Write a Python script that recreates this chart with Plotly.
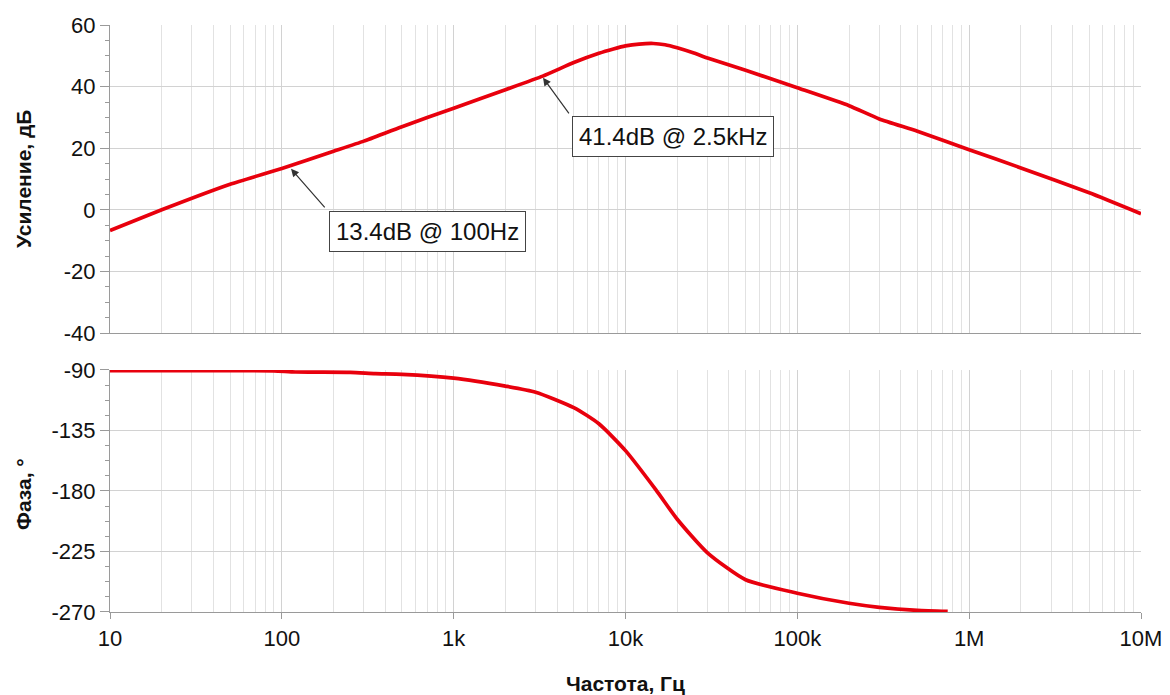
import numpy as np
import plotly.graph_objects as go
from plotly.subplots import make_subplots

# ---- data ----
freq_gain = [10, 20, 50, 100, 200, 300, 500, 1000, 2000, 3300, 5000, 7000,
             8500, 10000, 12000, 14500, 17000, 20000, 25000, 30000, 50000,
             100000, 200000, 300000, 500000, 1e6, 2e6, 5e6, 1e7]
gain_db = [-6.7, 0.0, 8.3, 13.4, 19.0, 22.3, 27.0, 33.0, 39.0, 43.4, 47.8, 50.8,
           52.2, 53.2, 53.8, 54.0, 53.6, 52.6, 50.9, 49.3, 45.3,
           39.6, 33.8, 29.5, 25.5, 19.5, 13.6, 5.5, -1.3]

freq_phase = [10, 50, 90, 120, 250, 350, 500, 1000, 2000, 3000, 5000, 7000,
              10000, 15000, 20000, 30000, 50000, 100000, 200000, 300000,
              500000, 750000]
phase_deg = [-90.5, -90.5, -90.6, -91.5, -91.8, -92.7, -93.2, -96.0, -102.0, -106.5,
             -118.0, -130.0, -150.0, -179.0, -201.0, -226.0, -246.0, -256.0,
             -263.5, -266.5, -268.8, -269.6]

x_tickvals = [10, 100, 1000, 10000, 100000, 1e6, 1e7]
x_ticktext = ["10", "100", "1k", "10k", "100k", "1M", "10M"]

gain_ticks = [-40, -20, 0, 20, 40, 60]
gain_ticktext = ["-40", "-20", "0", "20", "40", "60"]
phase_ticks = [-270, -225, -180, -135, -90]
phase_ticktext = ["-270", "-225", "-180", "-135", "-90"]

ann_labels = ["13.4dB @ 100Hz", "41.4dB @ 2.5kHz"]

# ---- styles ----
RED = "#e8000d"
FONT = "Liberation Sans, Arial, Helvetica, sans-serif"
GRID_MAJ = "#d2d2d2"
GRID_MIN = "#e2e2e2"
AXLINE = "#9a9a9a"
TXT = "#111111"

fig = make_subplots(rows=2, cols=1, shared_xaxes=True,
                    row_heights=[0.5247, 0.4123], vertical_spacing=0.063)

fig.add_trace(go.Scatter(x=freq_gain, y=gain_db, mode="lines",
                         line=dict(color=RED, width=3.7, shape="spline", smoothing=0.5),
                         showlegend=False, hoverinfo="skip"), row=1, col=1)
fig.add_trace(go.Scatter(x=freq_phase, y=phase_deg, mode="lines",
                         line=dict(color=RED, width=3.7, shape="spline", smoothing=0.6),
                         showlegend=False, hoverinfo="skip"), row=2, col=1)

xcommon = dict(type="log", range=[1, 7], tickvals=x_tickvals, ticktext=x_ticktext,
               showgrid=True, gridcolor=GRID_MAJ, gridwidth=1, automargin=False,
               minor=dict(dtick="D1", showgrid=True, gridcolor=GRID_MIN, gridwidth=1,
                          ticks=""),
               showline=True, linecolor=AXLINE, linewidth=1.2, zeroline=False)

fig.update_xaxes(**xcommon, row=1, col=1)
fig.update_xaxes(**xcommon, row=2, col=1)
fig.update_xaxes(showticklabels=False, ticks="", row=1, col=1)
fig.update_xaxes(showticklabels=True, ticks="outside", ticklen=6, tickcolor=AXLINE,
                 tickfont=dict(family=FONT, size=22, color=TXT),
                 row=2, col=1)

ycommon = dict(showgrid=True, gridcolor=GRID_MAJ, gridwidth=1, zeroline=False,
               showline=True, linecolor=AXLINE, linewidth=1.2, automargin=False,
               ticks="outside", ticklen=9, tickcolor=AXLINE,
               tickfont=dict(family=FONT, size=22, color=TXT))
fig.update_yaxes(**ycommon, range=[-40, 60], tickvals=gain_ticks, ticktext=gain_ticktext,
                 minor=dict(dtick=5, ticks="outside", ticklen=4, tickcolor=AXLINE,
                            showgrid=False),
                 row=1, col=1)
fig.update_yaxes(**ycommon, range=[-270, -90], tickvals=phase_ticks, ticktext=phase_ticktext,
                 minor=dict(dtick=11.25, ticks="outside", ticklen=4, tickcolor=AXLINE,
                            showgrid=False),
                 row=2, col=1)

annotations = []
# axis titles
annotations.append(dict(text="<b>Усиление, дБ</b>", xref="paper", yref="paper",
                        x=-0.0844, y=0.7376, textangle=-90, showarrow=False,
                        xanchor="center", yanchor="middle",
                        font=dict(family=FONT, size=21, color=TXT)))
annotations.append(dict(text="<b>Фаза, °</b>", xref="paper", yref="paper",
                        x=-0.0844, y=0.201, textangle=-90, showarrow=False,
                        xanchor="center", yanchor="middle",
                        font=dict(family=FONT, size=21, color=TXT)))
annotations.append(dict(text="<b>Частота, Гц</b>", xref="paper", yref="paper",
                        x=0.5, y=-0.121, showarrow=False,
                        xanchor="center", yanchor="middle",
                        font=dict(family=FONT, size=21, color=TXT)))

# callout boxes (positions in log10 units for the log x axis)
boxes = [(2.845, -6.98), (4.274, 23.86)]
tips = [(2.0535, 13.3), (3.520, 42.86)]
tails = [(35, 40), (27, 37)]
for label, (bx, by), (tx, ty), (ax, ay) in zip(ann_labels, boxes, tips, tails):
    annotations.append(dict(text=label, xref="x", yref="y", x=bx, y=by,
                            showarrow=False, bgcolor="white", bordercolor="#444444",
                            borderwidth=1, borderpad=6,
                            font=dict(family=FONT, size=24, color=TXT)))
    annotations.append(dict(text="", xref="x", yref="y", x=tx, y=ty,
                            showarrow=True, ax=ax, ay=ay, axref="pixel", ayref="pixel",
                            arrowhead=2, arrowsize=1.3, arrowwidth=1.2,
                            arrowcolor="#333333", standoff=0, startstandoff=0))

# page body has an 8px margin, so the figure is sized to sit inside the window
fig.update_layout(width=1162, height=687,
                  margin=dict(l=102, r=29, t=17, b=83, autoexpand=False),
                  paper_bgcolor="white", plot_bgcolor="white",
                  annotations=annotations, showlegend=False)

fig.write_html("out.html")
